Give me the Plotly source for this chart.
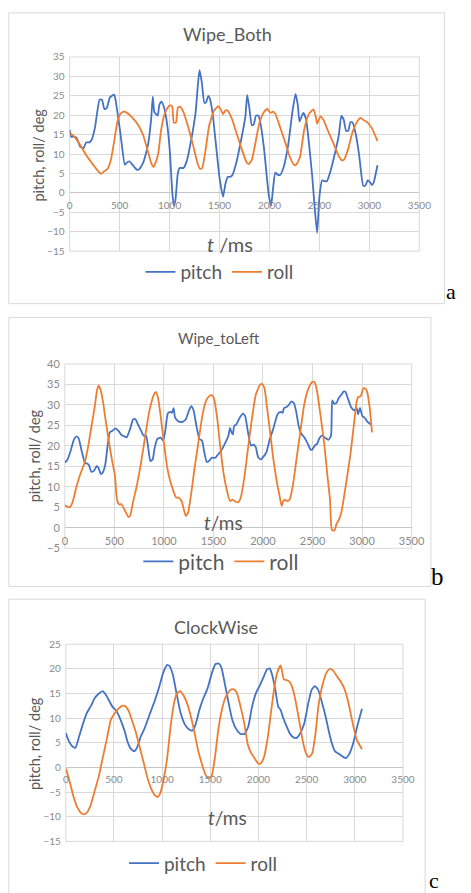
import plotly.graph_objects as go

W, H = 471, 893

# ---------------- data ----------------
# Panel a : Wipe_Both
a_pitch_t = [0, 16, 42, 68, 106, 139, 165, 197, 219, 252, 300, 323, 348, 371, 403, 445, 461, 510, 552, 568,
             597, 623, 671, 693, 735, 784, 816, 832, 848, 881, 897, 919, 945, 977, 1003, 1026, 1042, 1058, 1081, 1100,
             1139, 1171, 1219, 1261, 1284, 1300, 1323, 1348, 1365, 1387, 1403, 1429, 1461, 1500, 1535, 1558, 1581, 1606, 1629, 1671,
             1719, 1758, 1777, 1800, 1823, 1842, 1865, 1890, 1913, 1945, 1971, 1994, 2016, 2035, 2058, 2081, 2106, 2139, 2187, 2229,
             2261, 2284, 2300, 2316, 2339, 2365, 2397, 2429, 2455, 2477, 2500, 2526, 2552, 2574, 2606, 2655, 2694, 2719, 2742, 2768,
             2790, 2810, 2832, 2865, 2897, 2939, 2961, 2984, 3010, 3026, 3042, 3081]
a_pitch = [16.2, 14.4, 14.5, 14.2, 11.9, 11.5, 13.0, 13.0, 13.6, 16.6, 24.0, 24.0, 21.6, 21.8, 24.6, 25.3, 23.7, 14.9, 7.25, 7.7,
           8.1, 7.4, 6.0, 6.0, 7.7, 12.3, 19.1, 24.8, 20.8, 19.9, 22.6, 23.5, 22.0, 17.4, 10.6, 0.5, -3.3, -2.0, 4.7, 6.4,
           6.4, 8.1, 14.0, 20.8, 28.0, 31.6, 28.4, 23.2, 23.3, 25.0, 24.3, 20.8, 13.2, 3.9, -1.0, 2.2, 4.1, 4.1, 4.6, 8.1,
           14.0, 19.5, 25.2, 21.6, 17.4, 17.6, 19.9, 19.9, 17.4, 11.5, 4.7, -0.8, -3.3, 1.0, 5.2, 4.7, 4.6, 6.4, 12.3, 20.8,
           25.5, 22.5, 18.4, 19.3, 20.6, 19.1, 12.3, 3.9, -4.6, -10.3, -0.9, 3.2, 3.0, 3.0, 5.2, 10.2, 14.9, 19.8, 18.9, 15.9,
           16.1, 18.2, 18.1, 14.9, 9.8, 1.8, 1.9, 3.3, 2.6, 2.0, 2.6, 7.1]
a_roll_t = [0, 48, 106, 171, 235, 284, 316, 348, 381, 413, 445, 477, 510, 542, 574, 623, 687, 735, 784, 816,
            839, 865, 887, 913, 945, 977, 1003, 1026, 1042, 1064, 1084, 1106, 1139, 1187, 1235, 1284, 1306, 1326, 1358, 1397,
            1445, 1487, 1510, 1535, 1558, 1581, 1623, 1671, 1719, 1768, 1790, 1823, 1855, 1897, 1945, 1977, 2010, 2035, 2058, 2106,
            2155, 2203, 2245, 2268, 2306, 2348, 2397, 2439, 2461, 2477, 2510, 2542, 2590, 2639, 2687, 2719, 2745, 2784, 2832, 2874,
            2913, 2945, 2977, 3026, 3081]
a_roll = [15.5, 14.4, 12.3, 9.5, 7.25, 5.6, 4.9, 5.6, 6.2, 8.5, 13.2, 18.2, 20.4, 20.9, 20.6, 19.5, 17.4, 14.9, 10.6, 7.7,
          6.7, 8.1, 10.2, 15.7, 19.9, 21.8, 22.5, 22.3, 18.1, 18.1, 22.0, 22.2, 20.8, 16.9, 12.3, 7.25, 6.2, 6.4, 10.6, 17.4,
          21.2, 22.3, 21.6, 20.3, 21.2, 21.2, 19.1, 15.3, 11.5, 8.0, 7.4, 8.5, 12.3, 17.8, 20.8, 21.6, 20.6, 20.9, 20.4, 16.9,
          13.2, 9.3, 7.25, 7.25, 9.3, 16.4, 20.4, 21.5, 19.9, 17.8, 19.7, 18.7, 15.7, 12.8, 9.8, 8.5, 8.5, 11.0, 15.7, 18.2,
          19.3, 18.7, 18.2, 16.6, 13.3]

# Panel b : Wipe_toLeft
b_pitch_t = [0, 23, 55, 88, 114, 137, 169, 202, 225, 244, 267, 293, 322, 342, 365, 387, 407, 430, 453, 479,
             511, 544, 570, 602, 625, 658, 690, 713, 739, 772, 794, 820, 843, 863, 886, 908, 934, 967, 993, 1016,
             1039, 1065, 1081, 1097, 1113, 1146, 1188, 1221, 1250, 1276, 1299, 1325, 1358, 1384, 1407, 1432, 1455, 1481, 1520, 1546,
             1579, 1618, 1651, 1667, 1683, 1696, 1709, 1732, 1765, 1797, 1820, 1846, 1879, 1905, 1927, 1950, 1976, 2009, 2035, 2067,
             2106, 2146, 2178, 2198, 2211, 2237, 2263, 2286, 2312, 2334, 2360, 2383, 2416, 2448, 2481, 2497, 2523, 2546, 2569, 2595,
             2627, 2660, 2686, 2699, 2719, 2741, 2764, 2790, 2816, 2833, 2855, 2888, 2920, 2946, 2959, 2979, 3002, 3025, 3051, 3090]
b_pitch = [15.9, 16.5, 18.5, 21.3, 22.3, 22.0, 18.9, 15.9, 15.7, 15.3, 13.7, 13.9, 15.1, 14.5, 13.1, 13.7, 15.3, 19.7, 23.3, 23.7,
           24.3, 23.6, 22.7, 22.3, 22.1, 24.1, 26.5, 26.5, 25.2, 23.6, 22.5, 22.5, 19.3, 16.3, 16.7, 19.7, 21.7, 22.0, 21.3, 24.1,
           27.9, 28.3, 28.1, 29.2, 26.9, 26.0, 25.9, 26.5, 28.5, 29.7, 28.7, 25.3, 21.7, 21.3, 18.5, 16.1, 16.3, 17.1, 17.1, 17.9,
           18.9, 20.7, 22.5, 24.4, 23.3, 22.8, 24.9, 25.3, 26.9, 27.9, 27.3, 23.7, 20.1, 20.3, 19.7, 17.3, 16.7, 17.5, 18.5, 21.5,
           24.4, 27.7, 28.3, 28.1, 29.2, 29.5, 30.1, 30.9, 30.5, 28.5, 24.9, 23.1, 22.1, 20.7, 19.1, 19.1, 20.1, 20.5, 21.9, 22.5,
           22.0, 21.5, 22.5, 31.1, 30.3, 30.5, 31.7, 32.5, 33.3, 33.2, 31.7, 29.5, 28.7, 29.2, 27.7, 29.3, 27.3, 26.9, 26.0, 25.2]
b_roll_t = [0, 29, 55, 81, 114, 153, 202, 234, 267, 300, 326, 342, 365, 387, 413, 446, 479, 505, 527, 550,
            570, 609, 641, 658, 690, 723, 765, 804, 853, 902, 918, 941, 967, 999, 1032, 1065, 1097, 1123, 1146, 1179,
            1201, 1221, 1244, 1276, 1309, 1348, 1390, 1423, 1455, 1481, 1504, 1537, 1569, 1602, 1634, 1667, 1690, 1716, 1748, 1774,
            1813, 1846, 1885, 1927, 1970, 1993, 2015, 2041, 2074, 2106, 2139, 2165, 2188, 2204, 2221, 2243, 2269, 2302, 2341, 2383,
            2416, 2458, 2497, 2520, 2546, 2579, 2618, 2653, 2676, 2693, 2709, 2725, 2741, 2764, 2790, 2816, 2849, 2881, 2914, 2946,
            2959, 2985, 3012, 3034, 3051, 3077, 3100]
b_roll = [5.5, 5.1, 5.1, 6.5, 9.7, 12.9, 16.1, 19.7, 24.5, 29.3, 33.7, 34.8, 33.3, 30.5, 26.1, 20.9, 16.1, 12.9, 6.8, 5.7,
          5.8, 4.1, 2.7, 2.9, 6.5, 9.9, 15.3, 21.3, 28.5, 32.7, 33.2, 31.7, 27.3, 20.9, 14.9, 11.3, 8.9, 7.4, 7.4, 6.5,
          4.5, 2.9, 3.7, 8.5, 14.5, 20.9, 27.7, 30.9, 32.1, 32.4, 31.7, 26.9, 19.7, 13.3, 9.3, 6.5, 6.9, 6.5, 6.2, 7.3,
          12.5, 18.9, 26.1, 32.5, 34.9, 35.1, 34.1, 29.3, 22.9, 16.5, 11.3, 8.1, 5.3, 6.5, 6.9, 6.5, 6.9, 10.5, 17.3, 24.5,
          30.1, 34.0, 35.6, 35.6, 33.3, 27.7, 20.5, 12.1, 6.9, -0.3, -0.7, -0.5, 0.9, 1.9, 3.7, 7.3, 12.5, 17.7, 24.5, 30.9,
          31.9, 32.1, 34.0, 34.0, 33.2, 29.3, 23.3]

# Panel c : ClockWise
c_pitch_t = [0, 33, 67, 100, 134, 177, 217, 267, 301, 344, 384, 418, 451, 485, 525, 568, 612, 645, 679, 712,
             745, 779, 819, 869, 919, 969, 1013, 1053, 1080, 1113, 1153, 1193, 1237, 1280, 1314, 1347, 1387, 1427, 1471, 1514,
             1554, 1588, 1615, 1648, 1688, 1728, 1772, 1815, 1855, 1895, 1929, 1972, 2016, 2056, 2089, 2116, 2139, 2173, 2206, 2230,
             2256, 2283, 2323, 2363, 2397, 2430, 2474, 2517, 2551, 2584, 2617, 2658, 2698, 2731, 2765, 2798, 2841, 2875, 2908, 2942,
             2985, 3025, 3075]
c_pitch = [7.0, 5.3, 4.3, 4.0, 6.0, 8.8, 11.0, 12.7, 14.1, 15.0, 15.5, 14.7, 13.5, 12.3, 11.5, 9.7, 7.3, 5.0, 3.7, 3.3,
           4.3, 6.3, 8.0, 10.7, 13.3, 16.3, 19.3, 20.8, 20.5, 18.7, 14.7, 11.0, 8.7, 7.7, 7.5, 8.7, 11.7, 14.0, 16.0, 19.0,
           21.0, 21.1, 20.3, 17.3, 13.3, 9.7, 7.7, 6.8, 6.8, 8.3, 11.9, 15.0, 16.7, 18.5, 19.9, 20.1, 19.0, 16.0, 12.3, 11.7,
           10.1, 8.8, 7.0, 6.1, 6.0, 6.8, 8.8, 13.0, 15.7, 16.5, 15.9, 13.3, 10.3, 7.3, 4.7, 3.2, 2.7, 2.2, 1.9, 2.7,
           5.0, 8.3, 11.9]
c_roll_t = [0, 33, 77, 117, 157, 184, 217, 257, 301, 344, 384, 425, 468, 501, 545, 585, 612, 652, 685, 725,
            769, 812, 846, 886, 919, 953, 979, 1013, 1053, 1086, 1120, 1153, 1187, 1220, 1254, 1294, 1337, 1371, 1404, 1447,
            1481, 1514, 1548, 1581, 1615, 1655, 1705, 1738, 1772, 1815, 1855, 1889, 1922, 1956, 1996, 2022, 2056, 2096, 2129, 2163,
            2196, 2230, 2250, 2263, 2297, 2330, 2363, 2397, 2430, 2464, 2497, 2524, 2557, 2591, 2624, 2664, 2708, 2741, 2775, 2808,
            2858, 2892, 2932, 2975, 3019, 3075]
c_roll = [-0.2, -2.3, -5.7, -8.0, -9.2, -9.5, -9.2, -7.7, -4.7, -1.7, 2.0, 5.7, 9.7, 10.8, 11.9, 12.5, 12.5, 11.5, 9.7, 7.3,
          4.0, 0.7, -2.0, -4.3, -5.5, -6.0, -5.3, -2.7, 2.0, 8.0, 12.7, 15.0, 15.5, 14.7, 13.3, 10.7, 7.0, 3.7, 1.3, -1.3,
          -2.2, -1.7, 2.0, 7.3, 11.2, 14.1, 15.7, 15.9, 15.3, 12.3, 8.7, 4.7, 3.0, 2.0, 0.8, 0.8, 2.0, 6.0, 11.0, 16.0,
          19.3, 20.7, 19.0, 17.9, 17.7, 17.2, 15.5, 12.3, 8.7, 5.0, 2.7, 2.1, 2.8, 6.7, 12.7, 16.7, 19.3, 20.0, 19.7, 18.7,
          17.3, 16.0, 13.3, 9.3, 5.7, 3.7]

titles = ["Wipe_Both", "Wipe_toLeft", "ClockWise"]
panel_letters = ["a", "b", "c"]
x_ticks = [0, 500, 1000, 1500, 2000, 2500, 3000, 3500]
y_ranges = [(-15, 35), (-5, 40), (-15, 25)]

# ---------------- layout geometry (pixels) ----------------
BLUE, ORANGE = "#4472C4", "#ED7D31"
FONT = "Lato"
GRID = "#d9d9d9"
TXT = "#595959"
TICK = "#8a8a8a"

def px(x):
    return x / W

def py(y):
    return 1 - y / H

panels = [
    dict(plot=(69, 431, 50.7, 247.7), zero=188.7, border=(6, 457, 6, 301),
         title=(232, 27, 18), ytitle=(37, 150), tlab=(235, 241, 20, "<i>t</i> /ms"),
         legend=(224, 269, 19), letter=(464, 289, 22), tickfs=10),
    dict(plot=(64, 423, 362.3, 549.3), zero=528.7, border=(6, 443, 315, 588),
         title=(224, 336, 15), ytitle=(32, 455), tlab=(228, 523, 19, "<i>t</i>/ms"),
         legend=(226, 563, 21), letter=(450, 578, 25), tickfs=11),
    dict(plot=(65, 414, 646.7, 846.7), zero=771.7, border=(6, 437, 601, 905),
         title=(220, 629, 18), ytitle=(32, 747), tlab=(232, 822, 19, "<i>t</i>/ms"),
         legend=(207, 869, 19), letter=(446, 886, 22), tickfs=10),
]

series = [
    (a_pitch_t, a_pitch, a_roll_t, a_roll),
    (b_pitch_t, b_pitch, b_roll_t, b_roll),
    (c_pitch_t, c_pitch, c_roll_t, c_roll),
]

fig = go.Figure()
layout = dict(width=W, height=H, margin=dict(l=0, r=0, t=0, b=0),
              paper_bgcolor="white", plot_bgcolor="white", showlegend=True,
              font=dict(family=FONT, color=TXT))
shapes, annotations = [], []

def note(text, x, y, size, color=TXT, family=FONT, angle=0):
    annotations.append(dict(text=text, x=px(x), y=py(y), xref="paper", yref="paper",
                            xanchor="center", yanchor="middle", showarrow=False, textangle=angle,
                            font=dict(size=size, color=color, family=family)))

for i, (p, s) in enumerate(zip(panels, series)):
    n = "" if i == 0 else str(i + 1)
    xa, ya = "x" + n, "y" + n
    leg = "legend" + n
    x0, x1, yt, yb = p["plot"]
    fig.add_trace(go.Scatter(x=s[0], y=s[1], mode="lines", name="pitch", xaxis=xa, yaxis=ya,
                             line=dict(color=BLUE, width=1.8, shape="spline", smoothing=0.5), legend=leg))
    fig.add_trace(go.Scatter(x=s[2], y=s[3], mode="lines", name="roll", xaxis=xa, yaxis=ya,
                             line=dict(color=ORANGE, width=1.8, shape="spline", smoothing=0.5), legend=leg))
    layout["xaxis" + n] = dict(domain=[px(x0), px(x1)], range=[0, 3500], tickvals=x_ticks,
                               showgrid=True, gridcolor=GRID, gridwidth=1, zeroline=False, showline=False,
                               anchor="free", position=py(p["zero"]), ticks="", ticklabelstandoff=5,
                               tickfont=dict(size=p["tickfs"], color=TICK, family=FONT), fixedrange=True)
    layout["yaxis" + n] = dict(domain=[py(yb), py(yt)], range=list(y_ranges[i]), dtick=5, tick0=0,
                               showgrid=True, gridcolor=GRID, gridwidth=1, zeroline=True,
                               zerolinecolor="#c6c6c6", zerolinewidth=1, showline=False, ticks="",
                               ticklabelstandoff=4, anchor=xa,
                               tickfont=dict(size=p["tickfs"], color=TICK, family=FONT),
                               fixedrange=True)
    # plot-area frame
    shapes.append(dict(type="rect", xref=xa + " domain", yref=ya + " domain", x0=0, x1=1, y0=0, y1=1,
                       line=dict(color=GRID, width=1), layer="below"))
    # chart-area border
    bx0, bx1, by0, by1 = p["border"]
    shapes.append(dict(type="rect", xref="paper", yref="paper", x0=px(bx0), x1=px(bx1), y0=py(by1), y1=py(by0),
                       line=dict(color="#d9d9d9", width=1), layer="below"))
    tx, ty, tfs = p["title"]
    note(titles[i], tx, ty, tfs)
    yx, yy = p["ytitle"]
    note("pitch, roll/ deg", yx, yy, 14.5, angle=-90)
    lx, ly, lfs, ltxt = p["tlab"]
    note(ltxt, lx, ly, lfs)
    gx, gy, gfs = p["legend"]
    layout[leg] = dict(orientation="h", x=px(gx), y=py(gy), xanchor="center", yanchor="middle",
                       font=dict(size=gfs, color=TXT, family=FONT), bgcolor="rgba(0,0,0,0)",
                       itemwidth=30, tracegroupgap=0, itemclick=False, itemdoubleclick=False)
    cx, cy, cfs = p["letter"]
    note(panel_letters[i], cx, cy, cfs, color="#000000", family="Liberation Serif")

layout["shapes"] = shapes
layout["annotations"] = annotations
fig.update_layout(**layout)
fig.write_html("out.html")
